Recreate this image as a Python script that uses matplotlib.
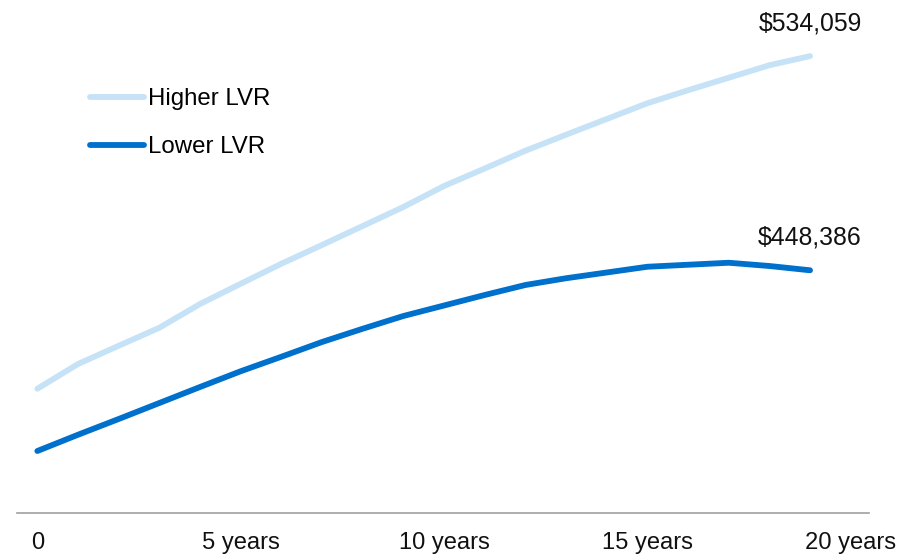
import matplotlib
matplotlib.use("Agg")
from matplotlib import pyplot as plt

# Data (years 0..19, values in $)
years = list(range(20))
higher_lvr = [401000, 410900, 418200, 425400, 434900, 443000, 451000, 458500, 466100, 473700,
              482100, 489100, 496200, 502600, 508900, 515200, 520400, 525400, 530400, 534059]
lower_lvr = [376100, 382600, 388900, 395300, 401700, 408000, 413800, 419700, 425000, 430100,
             434300, 438500, 442500, 445200, 447500, 449800, 450600, 451400, 450100, 448386]
tick_pos = [0, 5, 10, 15, 20]
tick_labels = ['0', '5 years', '10 years', '15 years', '20 years']

light = '#C6E2F7'
dark = '#0070CD'

plt.rcParams['font.family'] = ['Liberation Sans', 'DejaVu Sans']

fig = plt.figure(figsize=(9.06, 5.54), dpi=100)
ax = fig.add_axes([17/906, 41/554, 852/906, 500/554])

ax.plot(years, higher_lvr, color=light, lw=4.2, solid_capstyle='round', label='Higher LVR')
ax.plot(years, lower_lvr, color=dark, lw=4.2, solid_capstyle='round', label='Lower LVR')

ax.set_xlim(-0.5, 20.45)
ax.set_ylim(351300, 551300)

# End value labels
for series in (higher_lvr, lower_lvr):
    ax.annotate('${:,}'.format(series[-1]), (years[-1], series[-1]),
                xytext=(0, 18.3), textcoords='offset points',
                ha='center', va='baseline', fontsize=17.8, color='#111111')

# Axes styling
for s in ('top', 'right', 'left'):
    ax.spines[s].set_visible(False)
ax.spines['bottom'].set_color('#A0A0A0')
ax.spines['bottom'].set_linewidth(1.2)
ax.set_yticks([])
ax.set_xticks(tick_pos)
ax.set_xticklabels(tick_labels, fontsize=17.1, color='#111111')
ax.tick_params(axis='x', length=0, pad=13.5)

ax.legend(loc='upper left', bbox_to_anchor=(90/906, 1 - 88/554), bbox_transform=fig.transFigure,
          frameon=False, fontsize=17.3, handlelength=2.25, handletextpad=0.15,
          labelspacing=1.1, borderpad=0, borderaxespad=0)

plt.savefig('out.png', dpi=100)
